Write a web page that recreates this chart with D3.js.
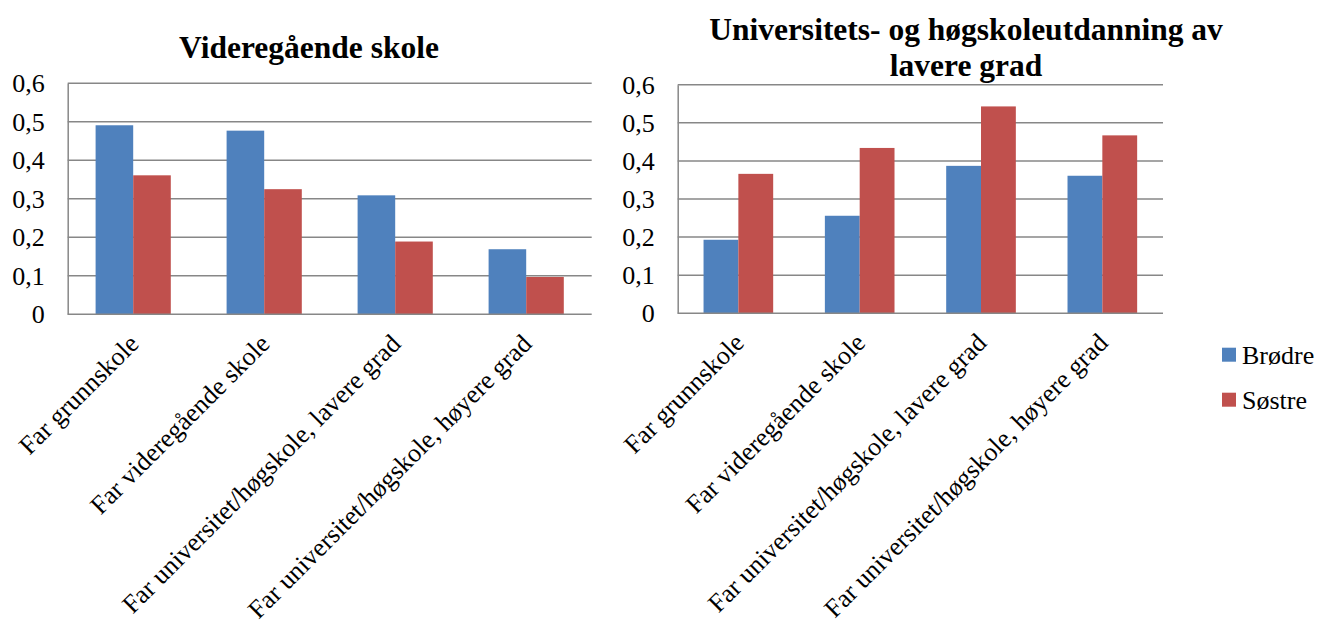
<!DOCTYPE html>
<html>
<head>
<meta charset="utf-8">
<script src="https://cdn.jsdelivr.net/npm/d3@7"></script>
<style>
  html, body { margin: 0; padding: 0; background: #fff; }
  svg { display: block; }
</style>
</head>
<body>
<svg id="chart" width="1317" height="625"></svg>
<script>
// ---- data ----
const categories = [
  "Far grunnskole",
  "Far videregående skole",
  "Far universitet/høgskole, lavere grad",
  "Far universitet/høgskole, høyere grad"
];
const seriesNames = ["Brødre", "Søstre"];
const yTicks = [0, 0.1, 0.2, 0.3, 0.4, 0.5, 0.6];

const titleLeft = ["Videregående skole"];
const brodreLeft = [0.491, 0.477, 0.309, 0.169];
const sostreLeft = [0.361, 0.325, 0.189, 0.097];

const titleRight = ["Universitets- og høgskoleutdanning av", "lavere grad"];
const brodreRight = [0.193, 0.256, 0.387, 0.361];
const sostreRight = [0.366, 0.434, 0.543, 0.467];

const colors = ["#4F81BD", "#C0504D"];
const gridColor = "#878787";
const FONT = '"Liberation Serif"';

const svg = d3.select("#chart");
const fmt = v => v === 0 ? "0" : d3.format(".1f")(v).replace(".", ",");

function drawChart(cfg) {
  const g = svg.append("g");
  const x0 = d3.scaleBand().domain(categories).range([cfg.x0, cfg.x1])
    .paddingInner(0.426).paddingOuter(0.213);
  const x1 = d3.scaleBand().domain(seriesNames).range([0, x0.bandwidth()]);
  const y = d3.scaleLinear().domain([0, 0.6]).range([cfg.y0, cfg.y1]);

  // gridlines
  g.append("g").selectAll("line").data(yTicks.filter(t => t > 0)).join("line")
    .attr("x1", cfg.x0).attr("x2", cfg.x1)
    .attr("y1", d => y(d)).attr("y2", d => y(d))
    .attr("stroke", gridColor).attr("stroke-width", 1.5);

  // y axis
  const yAxis = d3.axisLeft(y).tickValues(yTicks).tickFormat(fmt).tickSize(0).tickPadding(23);
  const ya = g.append("g").attr("transform", `translate(${cfg.x0},0)`).call(yAxis)
    .attr("font-family", null).attr("font-size", null);
  ya.select(".domain").attr("stroke", gridColor).attr("stroke-width", 1.5);
  ya.selectAll("text").style("font-family", FONT).style("font-size", "26px")
    .attr("dy", "0.33em").attr("fill", "#000");

  // bars
  const vals = [cfg.a, cfg.b];
  const data = [];
  categories.forEach((c, i) => seriesNames.forEach((s, j) => data.push({c, s, v: vals[j][i], j})));
  g.append("g").selectAll("rect").data(data).join("rect")
    .attr("x", d => x0(d.c) + x1(d.s))
    .attr("width", x1.bandwidth())
    .attr("y", d => y(d.v))
    .attr("height", d => y(0) - y(d.v))
    .attr("fill", d => colors[d.j]);

  // x axis
  const xAxis = d3.axisBottom(x0).tickSize(0).tickPadding(0);
  const xa = g.append("g").attr("transform", `translate(0,${cfg.y0})`).call(xAxis)
    .attr("font-family", null).attr("font-size", null);
  xa.select(".domain").attr("stroke", gridColor).attr("stroke-width", 1.5)
    .attr("d", `M${cfg.x0},0H${cfg.x1}`);
  xa.selectAll(".tick text")
    .style("font-family", FONT).style("font-size", "26px").attr("fill", "#000")
    .attr("text-anchor", "end")
    .attr("y", 0).attr("dy", 0)
    .attr("transform", "translate(7,31) rotate(-45)");

  // title
  const t = g.append("text").attr("x", cfg.tx).attr("y", cfg.ty)
    .attr("text-anchor", "middle")
    .style("font-family", FONT).style("font-weight", "bold").style("font-size", "31.5px");
  cfg.title.forEach((line, i) => t.append("tspan").attr("x", cfg.tx).attr("dy", i === 0 ? 0 : 36).text(line));
}

drawChart({x0: 67.7, x1: 591.7, y0: 314.3, y1: 83.3, a: brodreLeft, b: sostreLeft,
  title: titleLeft, tx: 309, ty: 58});
drawChart({x0: 677.7, x1: 1163, y0: 313.3, y1: 84.7, a: brodreRight, b: sostreRight,
  title: titleRight, tx: 966, ty: 40});

// legend
const lg = svg.append("g").attr("transform", "translate(1222,347.7)");
const li = lg.selectAll("g").data(seriesNames).join("g")
  .attr("transform", (d, i) => `translate(0,${i * 45})`);
li.append("rect").attr("width", 14).attr("height", 14).attr("fill", (d, i) => colors[i]);
li.append("text").attr("x", 20).attr("y", 16)
  .style("font-family", FONT).style("font-size", "26px").text(d => d);
</script>
</body>
</html>
